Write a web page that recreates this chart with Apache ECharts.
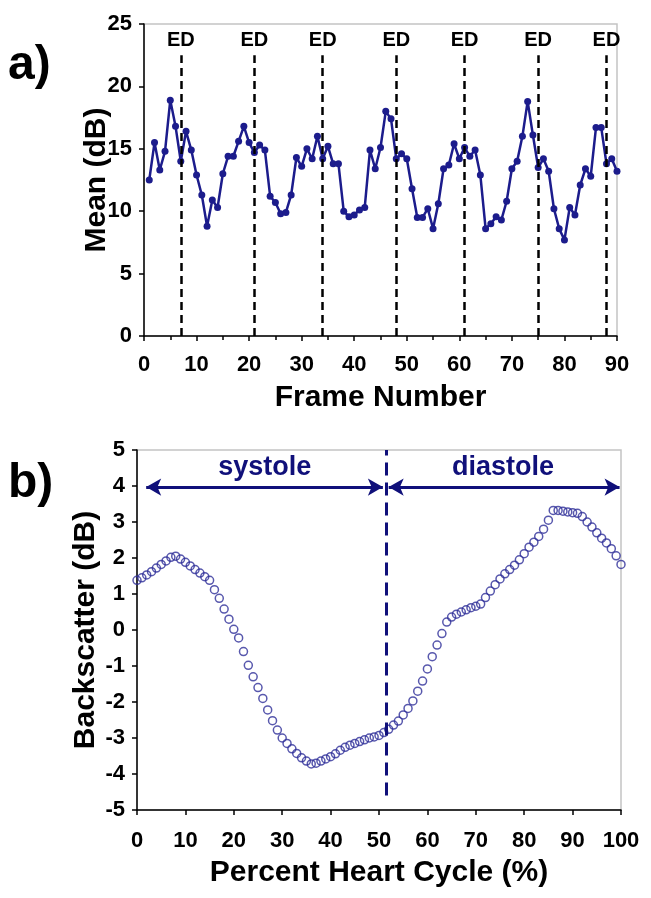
<!DOCTYPE html>
<html>
<head>
<meta charset="utf-8">
<script src="https://cdn.jsdelivr.net/npm/echarts@6/dist/echarts.min.js"></script>
<style>
html,body{margin:0;padding:0;background:#fff;}
#chart{width:651px;height:898px;}
</style>
</head>
<body>
<div id="chart"></div>
<script>
// ---- Panel a) : mean (dB) per frame, frames 1..90 ----
const meanDb = [
  12.5, 15.5, 13.3, 14.8, 18.9, 16.8, 14.0, 16.4, 14.9, 12.9,
  11.3, 8.8, 10.9, 10.3, 13.0, 14.4, 14.4, 15.6, 16.8, 15.5,
  14.7, 15.3, 14.9, 11.2, 10.7, 9.8, 9.9, 11.3, 14.3, 13.6,
  15.0, 14.2, 16.0, 14.2, 15.2, 13.8, 13.8, 10.0, 9.55, 9.7,
  10.1, 10.3, 14.9, 13.4, 15.1, 18.0, 17.4, 14.2, 14.6, 14.2,
  11.8, 9.5, 9.5, 10.2, 8.6, 10.6, 13.4, 13.7, 15.4, 14.2,
  15.1, 14.4, 14.9, 12.9, 8.6, 9.0, 9.55, 9.3, 10.8, 13.4,
  14.0, 16.0, 18.8, 16.1, 13.5, 14.2, 13.2, 10.2, 8.6, 7.7,
  10.3, 9.7, 12.1, 13.4, 12.8, 16.7, 16.7, 13.8, 14.2, 13.2
];
const edFrames = [7, 21, 34, 48, 61, 75, 88];
const edTop = 22.5;
const xTicksA = [0, 90, 10];   // min, max, interval
const yTicksA = [0, 25, 5];

// ---- Panel b) : backscatter (dB) over percent heart cycle 0..100 ----
const backscatter = [
  1.38, 1.45, 1.53, 1.62, 1.72, 1.82, 1.92, 2.02, 2.05, 1.97,
  1.88, 1.78, 1.68, 1.58, 1.48, 1.38, 1.12, 0.88, 0.58, 0.30,
  0.02, -0.22, -0.60, -0.98, -1.30, -1.60, -1.90, -2.22, -2.52, -2.78,
  -3.00, -3.15, -3.30, -3.43, -3.55, -3.64, -3.72, -3.70, -3.64, -3.58,
  -3.52, -3.44, -3.34, -3.26, -3.20, -3.15, -3.10, -3.05, -3.00, -2.97,
  -2.93, -2.85, -2.76, -2.64, -2.53, -2.36, -2.18, -1.97, -1.70, -1.42,
  -1.08, -0.74, -0.42, -0.10, 0.22, 0.36, 0.44, 0.50, 0.56, 0.62,
  0.66, 0.72, 0.90, 1.08, 1.26, 1.42, 1.56, 1.68, 1.80, 1.95,
  2.12, 2.30, 2.44, 2.60, 2.80, 3.05, 3.32, 3.32, 3.30, 3.28,
  3.26, 3.24, 3.15, 3.00, 2.86, 2.70, 2.55, 2.42, 2.26, 2.06,
  1.82
];
const phaseSplit = 51.5;
const systoleArrow = [1.9, 50.8];
const diastoleArrow = [52.0, 99.7];
const arrowLevel = 3.97;
const phaseLabels = ['systole', 'diastole'];
const phaseLabelX = [26.4, 75.6];
const phaseLabelY = 4.52;
const xTicksB = [0, 100, 10];
const yTicksB = [-5, 5, 1];

const FONT = 'Liberation Sans, Arial, Helvetica, sans-serif';
const NAVY = '#1c1c8c';
const DARKNAVY = '#10107a';

function axisCommon(extra) {
  return Object.assign({
    type: 'value',
    axisLine: { show: true, onZero: false, lineStyle: { color: '#000', width: 1.5 } },
    axisTick: { show: true, inside: false, length: 5, lineStyle: { color: '#000', width: 1.5 } },
    splitLine: { show: false },
    axisLabel: { color: '#000', fontSize: 22, fontWeight: 'bold', fontFamily: FONT },
    nameLocation: 'middle',
    nameMoveOverlap: false,
    nameTextStyle: { color: '#000', fontSize: 30, fontWeight: 'bold', fontFamily: FONT }
  }, extra);
}

const chart = echarts.init(document.getElementById('chart'), null, { renderer: 'canvas' });

const option = {
  backgroundColor: '#fff',
  animation: false,
  textStyle: { fontFamily: FONT },
  grid: [
    { left: 144, top: 24, width: 473, height: 312, show: true, borderColor: '#c4c4c4', borderWidth: 1.5, containLabel: false },
    { left: 137, top: 450, width: 484, height: 360, show: true, borderColor: '#c4c4c4', borderWidth: 1.5, containLabel: false }
  ],
  xAxis: [
    axisCommon({
      gridIndex: 0, min: xTicksA[0], max: xTicksA[1], interval: xTicksA[2],
      name: 'Frame Number', nameGap: 47,
      minorTick: { show: true, splitNumber: 2, length: 4, lineStyle: { color: '#000', width: 1.5 } },
      axisLabel: { color: '#000', fontSize: 22, fontWeight: 'bold', fontFamily: FONT, margin: 18 }
    }),
    axisCommon({
      gridIndex: 1, min: xTicksB[0], max: xTicksB[1], interval: xTicksB[2],
      name: 'Percent Heart Cycle (%)', nameGap: 48,
      axisLabel: { color: '#000', fontSize: 22, fontWeight: 'bold', fontFamily: FONT, margin: 20 }
    })
  ],
  yAxis: [
    axisCommon({
      gridIndex: 0, min: yTicksA[0], max: yTicksA[1], interval: yTicksA[2],
      name: 'Mean (dB)', nameGap: 32,
      axisLabel: { color: '#000', fontSize: 22, fontWeight: 'bold', fontFamily: FONT, margin: 12 }
    }),
    axisCommon({
      gridIndex: 1, min: yTicksB[0], max: yTicksB[1], interval: yTicksB[2],
      name: 'Backscatter (dB)', nameGap: 36,
      axisLabel: { color: '#000', fontSize: 22, fontWeight: 'bold', fontFamily: FONT, margin: 12 }
    })
  ],
  series: [
    {
      type: 'line',
      xAxisIndex: 0, yAxisIndex: 0,
      data: meanDb.map((v, i) => [i + 1, v]),
      symbol: 'circle',
      symbolSize: 7,
      lineStyle: { color: NAVY, width: 2.5 },
      itemStyle: { color: NAVY },
      z: 3,
      markLine: {
        silent: true,
        symbol: ['none', 'none'],
        lineStyle: { color: '#000', width: 2.5, type: [8, 5] },
        label: {
          show: true, position: 'end', formatter: 'ED', distance: 5,
          color: '#000', fontSize: 20, fontWeight: 'bold', fontFamily: FONT
        },
        data: edFrames.map(f => [{ coord: [f, 0] }, { coord: [f, edTop] }])
      }
    },
    {
      type: 'scatter',
      xAxisIndex: 1, yAxisIndex: 1,
      data: backscatter.map((v, i) => [i, v]),
      symbol: 'circle',
      symbolSize: 8,
      itemStyle: { color: 'rgba(0,0,0,0)', borderColor: '#2e2e98', borderWidth: 1.5 },
      z: 3
    },
    {
      type: 'line',
      xAxisIndex: 1, yAxisIndex: 1,
      data: [],
      markLine: {
        silent: true,
        symbol: ['none', 'none'],
        lineStyle: { color: DARKNAVY, width: 3, type: [13, 7] },
        label: { show: false },
        data: [[{ coord: [phaseSplit, -4.6] }, { coord: [phaseSplit, 5] }]]
      }
    },
    {
      type: 'line',
      xAxisIndex: 1, yAxisIndex: 1,
      data: [],
      markLine: {
        silent: true,
        symbol: ['arrow', 'arrow'],
        symbolSize: [13, 15],
        lineStyle: { color: DARKNAVY, width: 3, type: 'solid' },
        label: { show: false },
        data: [
          [{ coord: [systoleArrow[0], arrowLevel] }, { coord: [systoleArrow[1], arrowLevel] }],
          [{ coord: [diastoleArrow[0], arrowLevel] }, { coord: [diastoleArrow[1], arrowLevel] }]
        ]
      },
      markPoint: {
        silent: true,
        symbol: 'circle',
        symbolSize: 0,
        label: {
          show: true, position: 'inside', color: DARKNAVY,
          fontSize: 27, fontWeight: 'bold', fontFamily: FONT,
          formatter: p => p.name
        },
        data: phaseLabels.map((t, i) => ({ name: t, coord: [phaseLabelX[i], phaseLabelY] }))
      }
    }
  ],
  graphic: [
    { type: 'text', left: 8, top: 42, style: { text: 'a)', font: 'bold 48px ' + FONT, fill: '#000' } },
    { type: 'text', left: 8, top: 460, style: { text: 'b)', font: 'bold 48px ' + FONT, fill: '#000' } }
  ]
};
chart.setOption(option);
</script>
</body>
</html>
